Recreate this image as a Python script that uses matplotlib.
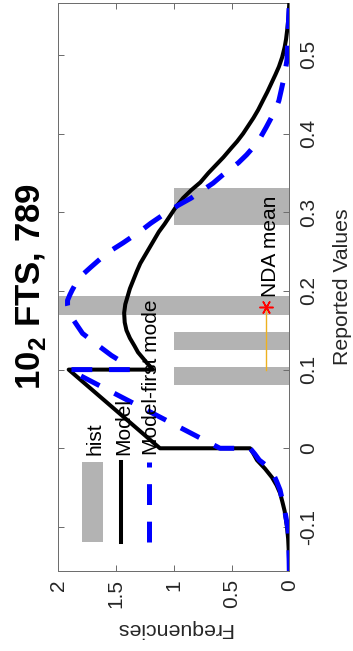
import matplotlib
matplotlib.use('Agg')
import matplotlib.pyplot as plt
from matplotlib.patches import Rectangle
from matplotlib.lines import Line2D

plt.rcParams['font.family'] = ['Liberation Sans', 'DejaVu Sans']
plt.rcParams['mathtext.fontset'] = 'custom'
plt.rcParams['mathtext.rm'] = 'Liberation Sans'
plt.rcParams['mathtext.bf'] = 'Liberation Sans:bold'
plt.rcParams['lines.scale_dashes'] = False

# ---------------- data ----------------
model_vals = [-0.156, -0.143, -0.13, -0.115, -0.10, -0.09, -0.08, -0.068, -0.057,
              -0.047, -0.037, -0.026, -0.015, -0.007, 0.0, 0.0, 0.1, 0.1,
              0.108, 0.115, 0.122, 0.13, 0.14, 0.15, 0.16, 0.172, 0.183, 0.193,
              0.203, 0.214, 0.225, 0.235, 0.255, 0.275, 0.285, 0.296, 0.307,
              0.318, 0.328, 0.338, 0.35, 0.36, 0.37, 0.382, 0.39, 0.40, 0.41,
              0.42, 0.43, 0.443, 0.453, 0.464, 0.475, 0.485, 0.497, 0.51, 0.52,
              0.532, 0.548, 0.566]
model_freq = [0.0, 0.002, 0.005, 0.01, 0.02, 0.03, 0.04, 0.06, 0.08,
              0.11, 0.15, 0.21, 0.28, 0.31, 0.34, 1.12, 1.91, 1.18,
              1.23, 1.27, 1.31, 1.34, 1.38, 1.41, 1.425, 1.43, 1.42, 1.40,
              1.38, 1.35, 1.32, 1.29, 1.21, 1.13, 1.08, 1.03, 0.98,
              0.92, 0.85, 0.77, 0.70, 0.635, 0.57, 0.50, 0.452, 0.40, 0.355,
              0.31, 0.27, 0.225, 0.19, 0.155, 0.12, 0.09, 0.062, 0.04, 0.028,
              0.018, 0.007, 0.0]

first_vals = [-0.156, -0.13, -0.104, -0.091, -0.079, -0.066, -0.053, -0.042,
              -0.032, -0.023, -0.015, -0.007, 0.0, 0.0, 0.1, 0.1,
              0.108, 0.118, 0.129, 0.138, 0.146, 0.159, 0.168, 0.176, 0.182,
              0.188, 0.195, 0.201, 0.209, 0.218, 0.230, 0.239, 0.248, 0.261,
              0.269, 0.277, 0.286, 0.294, 0.302, 0.309, 0.318, 0.328, 0.337,
              0.347, 0.355, 0.363, 0.373, 0.383, 0.395, 0.408, 0.419, 0.430,
              0.442, 0.455, 0.475, 0.494, 0.513, 0.532, 0.566]
first_freq = [0.0, 0.003, 0.01, 0.025, 0.04, 0.06, 0.08, 0.11,
              0.14, 0.19, 0.26, 0.30, 0.34, 0.60, 1.91, 1.38,
              1.43, 1.54, 1.64, 1.72, 1.79, 1.85, 1.89, 1.91, 1.92,
              1.92, 1.90, 1.88, 1.85, 1.81, 1.72, 1.65, 1.58, 1.44,
              1.36, 1.28, 1.20, 1.12, 1.04, 0.96, 0.85, 0.75, 0.66,
              0.58, 0.51, 0.44, 0.37, 0.31, 0.25, 0.20, 0.16, 0.12,
              0.09, 0.07, 0.04, 0.02, 0.015, 0.01, 0.0]

hist_lo = [0.080, 0.125, 0.170, 0.284]
hist_hi = [0.103, 0.148, 0.194, 0.331]
hist_freq = [1.0, 1.0, 2.0, 1.0]

nda_range = [0.10, 0.18]
nda_mean = 0.18
nda_level = 0.2

freq_ticks = [0, 0.5, 1, 1.5, 2]
freq_ticklabels = ['0', '0.5', '1', '1.5', '2']
value_ticks = [-0.1, 0, 0.1, 0.2, 0.3, 0.4, 0.5]
value_ticklabels = ['-0.1', '0', '0.1', '0.2', '0.3', '0.4', '0.5']
value_lim = (-0.156, 0.566)
freq_lim = (2, 0)

title_text = r'10$_{\mathbf{2}}$ FTS, 789'
xlabel_text = 'Reported Values'
ylabel_text = 'Frequencies'
legend_labels = ['hist', 'Model', 'Model-first mode']

# ---------------- styles ----------------
GRAY = '#b3b3b3'
AXC = '#6e6e6e'
TXT = '#262626'
BLUE = (0, 0, 1)
DASH = (15, 12)

W, H = 353, 651
fig = plt.figure(figsize=(W / 100, H / 100), dpi=100)


def fx(px):
    return px / W


def fy(py):
    return 1 - py / H


L, R, T, B = 58.3, 289.3, 3.0, 571.0
ax = fig.add_axes([fx(L), fy(B), (R - L) / W, (B - T) / H])

heights = [h - l for l, h in zip(hist_lo, hist_hi)]
ax.barh(hist_lo, hist_freq, height=heights, left=0, align='edge',
        color=GRAY, linewidth=0, zorder=1)

ax.plot(model_freq, model_vals, color='k', lw=2.9, zorder=3)
ax.plot(first_freq, first_vals, color=BLUE, lw=3.6, dashes=DASH, zorder=4)

ax.plot([nda_level, nda_level], nda_range, color='#EDB120', lw=1.0, zorder=5)
ax.plot([nda_level], [nda_mean], linestyle='none', marker=(6, 2, 90),
        markersize=10, markeredgewidth=1.1, color='red', zorder=6)
ax.annotate('NDA mean', xy=(nda_level, nda_mean), xytext=(7.4, 7),
            textcoords='offset points', rotation=90, rotation_mode='anchor',
            ha='left', va='baseline', fontsize=15, color='k', zorder=7)

ax.set_xlim(*freq_lim)
ax.set_ylim(*value_lim)

ax.set_xticks(freq_ticks)
ax.set_xticklabels(freq_ticklabels, rotation=90, ha='center', va='top',
                   fontsize=15, color=TXT)
ax.set_yticks(value_ticks)
ax.yaxis.tick_right()
ax.set_yticklabels(value_ticklabels, rotation=90, ha='left', va='center',
                   fontsize=15, color=TXT)
ax.tick_params(axis='both', direction='in', length=4.3, width=0.72,
               color=AXC, top=True, bottom=True, left=True, right=True)
ax.tick_params(axis='x', pad=5.8)
ax.tick_params(axis='y', pad=7.0)
for s in ax.spines.values():
    s.set_color(AXC)
    s.set_linewidth(0.72)

# manual legend (rotated layout, box off)
ax.add_patch(Rectangle((0.1026, 0.0511), 0.0909, 0.1408, transform=ax.transAxes,
                       color=GRAY, linewidth=0, zorder=8))
ax.add_line(Line2D([0.2714, 0.2714], [0.0511, 0.1919], transform=ax.transAxes,
                   color='k', lw=2.9, zorder=8))
ax.add_line(Line2D([0.3926, 0.3926], [0.0511, 0.1919], transform=ax.transAxes,
                   color=BLUE, lw=3.6, dashes=DASH, zorder=8))
for xb, lab in zip([0.1848, 0.3061, 0.4273], legend_labels):
    ax.text(xb, 0.2042, lab, transform=ax.transAxes, rotation=90,
            rotation_mode='anchor', ha='left', va='baseline', fontsize=15,
            color='k', zorder=9)

# title and axis labels (rotated figure)
fig.text(fx(40), fy(287), title_text, rotation=90, rotation_mode='anchor',
         ha='center', va='baseline', fontsize=25, fontweight='bold', color='k')
fig.text(fx(348), fy(287), xlabel_text, rotation=90, rotation_mode='anchor',
         ha='center', va='baseline', fontsize=15.3, color=TXT)
fig.text(fx(174), fy(623), ylabel_text, rotation=180, rotation_mode='anchor',
         ha='center', va='baseline', fontsize=15.3, color=TXT)

fig.savefig('out.png', dpi=100)
